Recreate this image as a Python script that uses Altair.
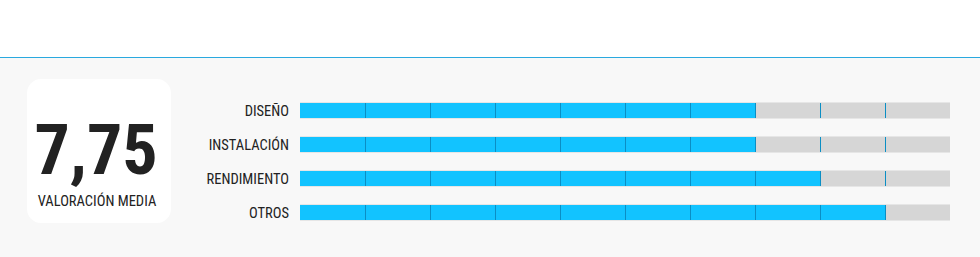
import altair as alt
import pandas as pd

# --- data ---
categories = ["DISEÑO", "INSTALACIÓN", "RENDIMIENTO", "OTROS"]
values = [7, 7, 8, 9]
max_score = 10
score_label = "VALORACIÓN MEDIA"

FONT = "Roboto Condensed, Liberation Sans Narrow, DejaVu Sans Condensed, Roboto, sans-serif"
BIGFONT = "Roboto Condensed, Roboto, sans-serif"

df = pd.DataFrame({"cat": categories, "val": values, "max": [max_score] * len(categories)})
div_df = pd.DataFrame(
    [{"cat": c, "pos": p} for c in categories for p in range(1, max_score)]
)

xs = alt.Scale(domain=[0, max_score], range=[300, 950], nice=False, zero=True)
ys = alt.Scale(type="point", domain=categories, range=[110.5, 212.5], padding=0)

one = pd.DataFrame({"k": [0]})

panel = alt.Chart(one).mark_rect(fill="#f8f8f8").encode(
    x=alt.value(0), x2=alt.value(980), y=alt.value(57), y2=alt.value(257)
)
topline = alt.Chart(one).mark_rule(color="#2aa9df", strokeWidth=1).encode(
    x=alt.value(0), x2=alt.value(980), y=alt.value(57.5)
)
box = alt.Chart(one).mark_rect(fill="white", cornerRadius=14).encode(
    x=alt.value(27), x2=alt.value(171), y=alt.value(79), y2=alt.value(223)
)

base = alt.Chart(df)

track_outer = base.mark_rule(color="#e6e6e6", strokeWidth=17, strokeCap="butt").encode(
    x=alt.X("zero:Q", scale=xs, axis=None),
    x2="max:Q",
    y=alt.Y("cat:N", scale=ys, axis=None),
).transform_calculate(zero="0")

track = base.mark_rule(color="#d6d6d6", strokeWidth=15, strokeCap="butt").encode(
    x=alt.X("zero:Q", scale=xs, axis=None),
    x2="max:Q",
    y=alt.Y("cat:N", scale=ys, axis=None),
).transform_calculate(zero="0")

bars = base.mark_rule(color="#12c3ff", strokeWidth=15, strokeCap="butt").encode(
    x=alt.X("zero:Q", scale=xs, axis=None),
    x2="val:Q",
    y=alt.Y("cat:N", scale=ys, axis=None),
).transform_calculate(zero="0")

dividers = alt.Chart(div_df).mark_tick(
    color="#0b8ec4", thickness=1, size=15, xOffset=0.5, opacity=1
).encode(
    x=alt.X("pos:Q", scale=xs, axis=None),
    y=alt.Y("cat:N", scale=ys, axis=None),
)

labels = base.mark_text(
    align="right", baseline="middle", font=FONT, fontSize=14.5, color="#222222", dy=1
).encode(
    x=alt.value(289),
    y=alt.Y("cat:N", scale=ys, axis=None),
    text="cat:N",
)

big = base.transform_aggregate(m="mean(val)").transform_calculate(
    t="replace(format(datum.m, '.2f'), '.', ',')"
).mark_text(
    align="center", baseline="alphabetic", font=BIGFONT, fontSize=70, fontWeight="bold",
    color="#222222",
).encode(x=alt.value(96), y=alt.value(174), text="t:N")

sub = alt.Chart(pd.DataFrame({"t": [score_label]})).mark_text(
    align="center", baseline="alphabetic", font=FONT, fontSize=14.5, color="#222222"
).encode(x=alt.value(97), y=alt.value(206), text="t:N")

chart = alt.layer(
    panel, topline, box, track_outer, track, bars, dividers, labels, big, sub
).properties(
    width=980, height=257, padding=0, autosize=alt.AutoSizeParams(type="none"),
    background="white",
).configure_view(stroke=None)

chart.save("out.html", embed_options={"renderer": "svg", "actions": False})
